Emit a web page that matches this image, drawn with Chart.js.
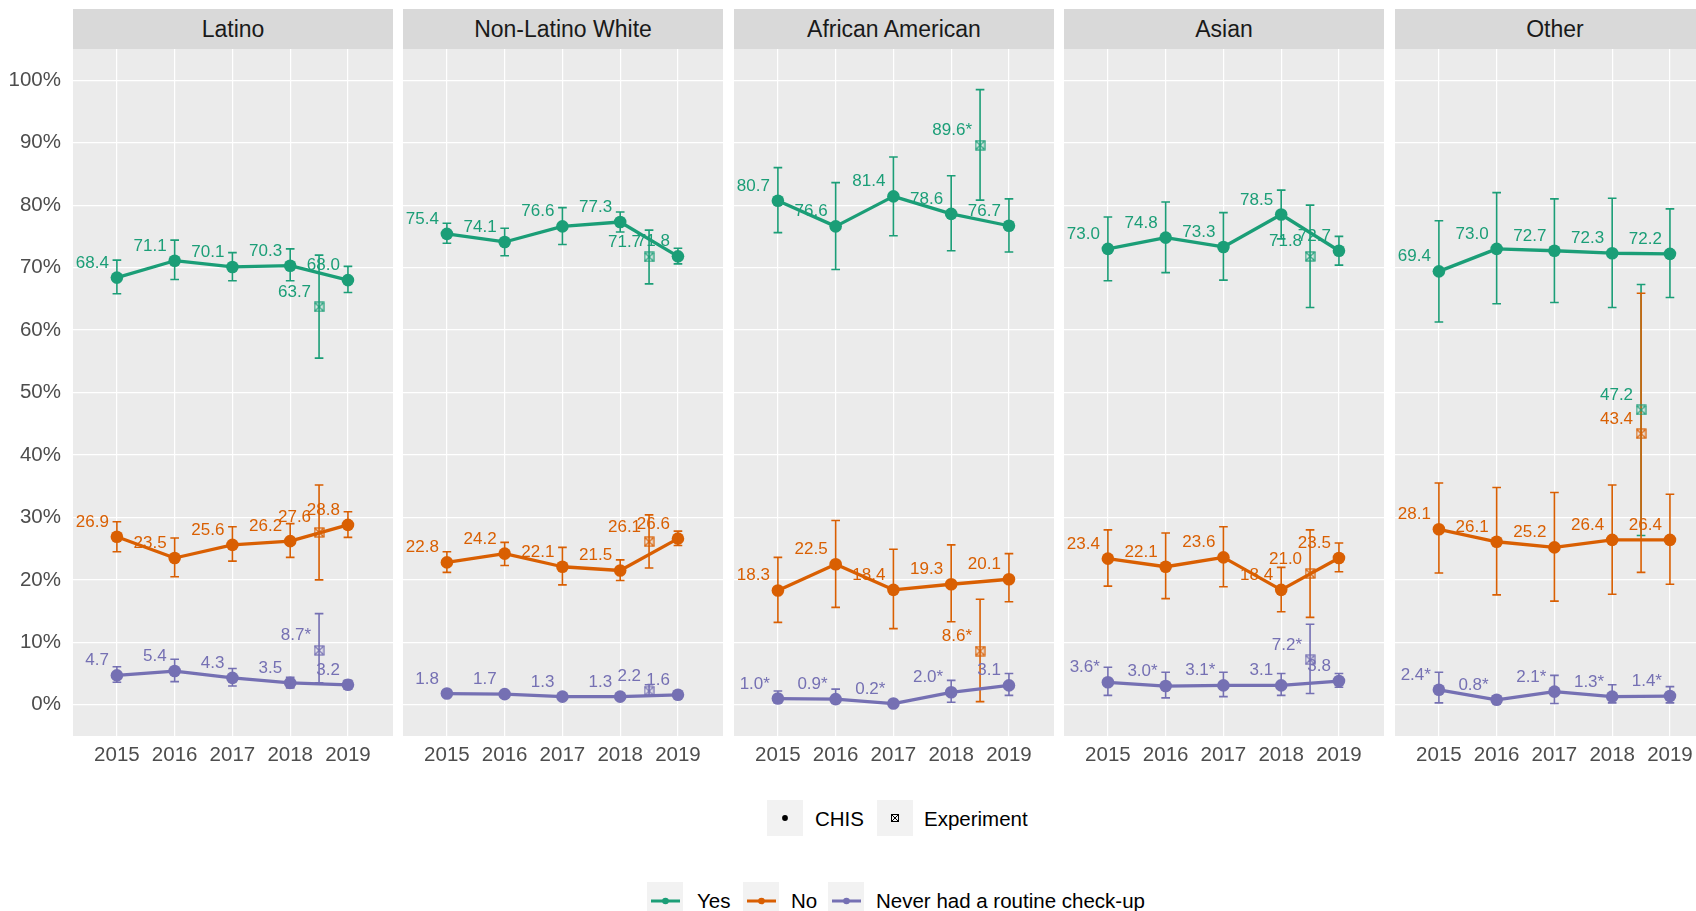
<!DOCTYPE html>
<html lang="en">
<head>
<meta charset="UTF-8">
<title>Routine check-up by race/ethnicity</title>
<script src="https://cdn.jsdelivr.net/npm/chart.js"></script>
<style>
  html, body { margin: 0; padding: 0; background: #fff; }
  body { width: 1696px; height: 911px; overflow: hidden; position: relative; font-family: "Liberation Sans", Arial, sans-serif; }
  .strip { position: absolute; top: 9px; height: 40px; width: 320px; background: #d9d9d9; color: #1a1a1a; font-size: 23px; line-height: 41px; text-align: center; }
  canvas { position: absolute; top: 49px; }
  .key { position: absolute; width: 36px; height: 36px; background: #f2f2f2; }
  .key svg { display: block; }
  .lab { position: absolute; font-size: 20.5px; line-height: 24px; color: #000; white-space: nowrap; }
</style>
</head>
<body>
  <div id="figure"></div>

  <!-- legend: data source -->
  <div class="key" style="left:767px; top:800px;">
    <svg width="36" height="36"><circle cx="18" cy="18" r="2.9" fill="#000"/></svg>
  </div>
  <div class="lab" style="left:815px; top:807px;">CHIS</div>
  <div class="key" style="left:877px; top:800px;">
    <svg width="36" height="36" fill="none" stroke="#000" stroke-width="1">
      <rect x="14.5" y="14.5" width="7" height="7"/><path d="M14.5 14.5 L21.5 21.5 M21.5 14.5 L14.5 21.5"/>
    </svg>
  </div>
  <div class="lab" style="left:924px; top:807px;">Experiment</div>

  <!-- legend: answer -->
  <div class="key" style="left:647px; top:882px;">
    <svg width="36" height="36"><line x1="4" y1="19" x2="33" y2="19" stroke="#1b9e77" stroke-width="3"/><circle cx="18.5" cy="19" r="3.3" fill="#1b9e77"/></svg>
  </div>
  <div class="lab" style="left:697px; top:889px;">Yes</div>
  <div class="key" style="left:743px; top:882px;">
    <svg width="36" height="36"><line x1="4" y1="19" x2="33" y2="19" stroke="#d95f02" stroke-width="3"/><circle cx="18.5" cy="19" r="3.3" fill="#d95f02"/></svg>
  </div>
  <div class="lab" style="left:791px; top:889px;">No</div>
  <div class="key" style="left:828px; top:882px;">
    <svg width="36" height="36"><line x1="4" y1="19" x2="33" y2="19" stroke="#7570b3" stroke-width="3"/><circle cx="18.5" cy="19" r="3.3" fill="#7570b3"/></svg>
  </div>
  <div class="lab" style="left:876px; top:889px;">Never had a routine check-up</div>

  <script>
    const panels = ['Latino', 'Non-Latino White', 'African American', 'Asian', 'Other'];
    const years = [2015, 2016, 2017, 2018, 2019];
    const expYear = 2018.5;
    const yTicks = [0, 10, 20, 30, 40, 50, 60, 70, 80, 90, 100];

    // CHIS estimates, one row per panel
    const yesValues = [
      [68.4, 71.1, 70.1, 70.3, 68.0],
      [75.4, 74.1, 76.6, 77.3, 71.8],
      [80.7, 76.6, 81.4, 78.6, 76.7],
      [73.0, 74.8, 73.3, 78.5, 72.7],
      [69.4, 73.0, 72.7, 72.3, 72.2]
    ];
    const yesLow = [
      [65.8, 68.1, 67.9, 67.9, 66.0],
      [73.9, 71.9, 73.7, 75.7, 70.6],
      [75.6, 69.7, 75.1, 72.7, 72.5],
      [67.9, 69.2, 68.0, 74.6, 70.4],
      [61.3, 64.2, 64.4, 63.6, 65.2]
    ];
    const yesHigh = [
      [71.2, 74.4, 72.4, 73.0, 70.2],
      [77.1, 76.3, 79.6, 78.9, 73.1],
      [86.0, 83.6, 87.7, 84.7, 81.0],
      [78.1, 80.5, 78.8, 82.4, 75.0],
      [77.5, 82.0, 81.0, 81.1, 79.4]
    ];
    const noValues = [
      [26.9, 23.5, 25.6, 26.2, 28.8],
      [22.8, 24.2, 22.1, 21.5, 26.6],
      [18.3, 22.5, 18.4, 19.3, 20.1],
      [23.4, 22.1, 23.6, 18.4, 23.5],
      [28.1, 26.1, 25.2, 26.4, 26.4]
    ];
    const noLow = [
      [24.5, 20.5, 23.0, 23.6, 26.8],
      [21.2, 22.3, 19.2, 19.9, 25.5],
      [13.2, 15.6, 12.2, 13.3, 16.5],
      [19.0, 17.0, 18.9, 14.9, 21.3],
      [21.1, 17.6, 16.6, 17.7, 19.3]
    ];
    const noHigh = [
      [29.3, 26.7, 28.5, 29.0, 30.9],
      [24.5, 26.0, 25.2, 23.2, 27.8],
      [23.6, 29.5, 24.9, 25.6, 24.2],
      [28.0, 27.5, 28.5, 22.0, 25.9],
      [35.5, 34.8, 34.0, 35.2, 33.7]
    ];
    const neverValues = [
      [4.7, 5.4, 4.3, 3.5, 3.2],
      [1.8, 1.7, 1.3, 1.3, 1.6],
      [1.0, 0.9, 0.2, 2.0, 3.1],
      [3.6, 3.0, 3.1, 3.1, 3.8],
      [2.4, 0.8, 2.1, 1.3, 1.4]
    ];
    const neverLow = [
      [3.6, 3.7, 3.0, 2.7, 2.5],
      [1.5, 1.4, 1.0, 1.0, 1.3],
      [0.3, 0.2, 0.0, 0.4, 1.5],
      [1.5, 1.1, 1.3, 1.5, 2.8],
      [0.3, 0.3, 0.2, 0.3, 0.3]
    ];
    const neverHigh = [
      [6.1, 7.3, 5.8, 4.4, 3.9],
      [2.1, 2.0, 1.6, 1.6, 1.9],
      [2.2, 2.5, 0.6, 3.9, 5.0],
      [6.0, 5.2, 5.2, 5.0, 5.0],
      [5.2, 1.4, 4.7, 3.2, 2.9]
    ];
    // estimates flagged with *
    const neverStar = [
      [0, 0, 0, 0, 0],
      [0, 0, 0, 0, 0],
      [1, 1, 1, 1, 0],
      [1, 1, 1, 0, 0],
      [1, 1, 1, 1, 1]
    ];

    // experiment estimates (one per panel, null = none)
    const expYes = [63.7, 71.7, 89.6, 71.8, 47.2];
    const expYesLow = [55.5, 67.4, 80.8, 63.6, 27.1];
    const expYesHigh = [72.0, 76.0, 98.5, 80.0, 67.3];
    const expYesStar = [0, 0, 1, 0, 0];
    const expNo = [27.6, 26.1, 8.6, 21.0, 43.4];
    const expNoLow = [20.0, 21.9, 0.5, 14.0, 21.2];
    const expNoHigh = [35.2, 30.4, 16.9, 28.0, 65.9];
    const expNoStar = [0, 0, 1, 0, 0];
    const expNever = [8.7, 2.2, null, 7.2, null];
    const expNeverLow = [3.5, 1.4, null, 1.8, null];
    const expNeverHigh = [14.6, 3.2, null, 12.9, null];
    const expNeverStar = [1, 0, 0, 1, 0];

    const FONT = '"Liberation Sans", Arial, sans-serif';
    const GREEN = '#1b9e77', ORANGE = '#d95f02', PURPLE = '#7570b3';
    const panelLeft = [73, 403, 734, 1064, 1395];

    function fmt(v, star) {
      return v.toFixed(1) + (star ? '*' : '');
    }

    // square with a cross (ggplot shape 7)
    function crossSquare(color) {
      const c = document.createElement('canvas');
      c.width = 11; c.height = 11;
      const g = c.getContext('2d');
      g.strokeStyle = color;
      g.lineWidth = 1.2;
      g.strokeRect(1, 1, 9, 9);
      g.beginPath();
      g.moveTo(1, 1); g.lineTo(10, 10);
      g.moveTo(10, 1); g.lineTo(1, 10);
      g.stroke();
      return c;
    }

    const panelBg = {
      id: 'panelBg',
      beforeDraw(chart) {
        const a = chart.chartArea;
        chart.ctx.save();
        chart.ctx.fillStyle = '#ebebeb';
        chart.ctx.fillRect(a.left, a.top, a.right - a.left, a.bottom - a.top);
        chart.ctx.restore();
      }
    };

    const errorBars = {
      id: 'errorBars',
      beforeDatasetsDraw(chart) {
        const ctx = chart.ctx, xs = chart.scales.x, ys = chart.scales.y;
        chart.data.datasets.forEach((ds, i) => {
          const meta = chart.getDatasetMeta(i);
          meta.data.forEach((pt, j) => {
            const lo = ds.errLow[j], hi = ds.errHigh[j];
            if (lo == null || hi == null) return;
            const xv = ds.data[j].x;
            const half = xs.getPixelForValue(xv + 0.075) - xs.getPixelForValue(xv);
            const top = ys.getPixelForValue(hi), bot = ys.getPixelForValue(lo);
            ctx.save();
            ctx.strokeStyle = ds.barColor;
            ctx.lineWidth = 1.6;
            ctx.beginPath();
            ctx.moveTo(pt.x, top); ctx.lineTo(pt.x, bot);
            ctx.moveTo(pt.x - half, top); ctx.lineTo(pt.x + half, top);
            ctx.moveTo(pt.x - half, bot); ctx.lineTo(pt.x + half, bot);
            ctx.stroke();
            ctx.restore();
          });
        });
      }
    };

    const valueLabels = {
      id: 'valueLabels',
      afterDatasetsDraw(chart) {
        const ctx = chart.ctx;
        chart.data.datasets.forEach((ds, i) => {
          const meta = chart.getDatasetMeta(i);
          meta.data.forEach((pt, j) => {
            ctx.save();
            ctx.font = '17px ' + FONT;
            ctx.fillStyle = ds.barColor;
            ctx.textAlign = 'right';
            ctx.textBaseline = 'alphabetic';
            ctx.fillText(ds.labels[j], pt.x - 8, pt.y - 10);
            ctx.restore();
          });
        });
      }
    };

    function chisSet(vals, lo, hi, stars, color) {
      return {
        data: years.map((yr, j) => ({ x: yr, y: vals[j] })),
        errLow: lo, errHigh: hi,
        labels: vals.map((v, j) => fmt(v, stars && stars[j])),
        barColor: color,
        borderColor: color,
        borderWidth: 3.3,
        pointRadius: 6.3,
        pointBackgroundColor: color,
        pointBorderWidth: 0,
        borderJoinStyle: 'round',
        borderCapStyle: 'round',
        tension: 0
      };
    }

    function expSet(v, lo, hi, star, color) {
      return {
        data: [{ x: expYear, y: v }],
        errLow: [lo], errHigh: [hi],
        labels: [fmt(v, star)],
        barColor: color,
        showLine: false,
        pointStyle: crossSquare(color),
        pointRadius: 5
      };
    }

    function noPadding(s) {
      s.paddingTop = 0; s.paddingBottom = 0;
      s.paddingLeft = 0; s.paddingRight = 0;
    }

    const figure = document.getElementById('figure');

    panels.forEach((name, p) => {
      const strip = document.createElement('div');
      strip.className = 'strip';
      strip.style.left = panelLeft[p] + 'px';
      strip.textContent = name;
      figure.appendChild(strip);

      const canvas = document.createElement('canvas');
      const axisW = p === 0 ? 73 : 0;
      canvas.width = 320 + axisW;
      canvas.height = 727;
      canvas.style.left = (panelLeft[p] - axisW) + 'px';
      figure.appendChild(canvas);

      const datasets = [
        chisSet(yesValues[p], yesLow[p], yesHigh[p], null, GREEN),
        chisSet(noValues[p], noLow[p], noHigh[p], null, ORANGE),
        chisSet(neverValues[p], neverLow[p], neverHigh[p], neverStar[p], PURPLE),
        expSet(expYes[p], expYesLow[p], expYesHigh[p], expYesStar[p], GREEN),
        expSet(expNo[p], expNoLow[p], expNoHigh[p], expNoStar[p], ORANGE)
      ];
      if (expNever[p] != null) {
        datasets.push(expSet(expNever[p], expNeverLow[p], expNeverHigh[p], expNeverStar[p], PURPLE));
      }

      new Chart(canvas.getContext('2d'), {
        type: 'line',
        data: { datasets: datasets },
        plugins: [panelBg, errorBars, valueLabels],
        options: {
          responsive: false,
          animation: false,
          events: [],
          layout: { padding: 0, autoPadding: false },
          plugins: { legend: { display: false }, tooltip: { enabled: false } },
          scales: {
            x: {
              type: 'linear',
              min: 2014.24,
              max: 2019.78,
              afterBuildTicks: s => { s.ticks = years.map(v => ({ value: v })); },
              afterFit: s => { s.height = 40; noPadding(s); },
              grid: { color: '#ffffff', lineWidth: 1.2, drawTicks: false },
              border: { display: false },
              ticks: {
                color: '#4d4d4d',
                font: { family: FONT, size: 20.5 },
                padding: 7,
                maxRotation: 0,
                autoSkip: false,
                callback: v => String(v)
              }
            },
            y: {
              min: -5,
              max: 105,
              afterBuildTicks: s => { s.ticks = yTicks.map(v => ({ value: v })); },
              afterFit: s => { s.width = axisW; noPadding(s); },
              grid: { color: '#ffffff', lineWidth: 1.2, drawTicks: false },
              border: { display: false },
              ticks: {
                display: p === 0,
                color: '#4d4d4d',
                font: { family: FONT, size: 20.5 },
                padding: 12,
                callback: v => v + '%'
              }
            }
          }
        }
      });
    });
  </script>
</body>
</html>
